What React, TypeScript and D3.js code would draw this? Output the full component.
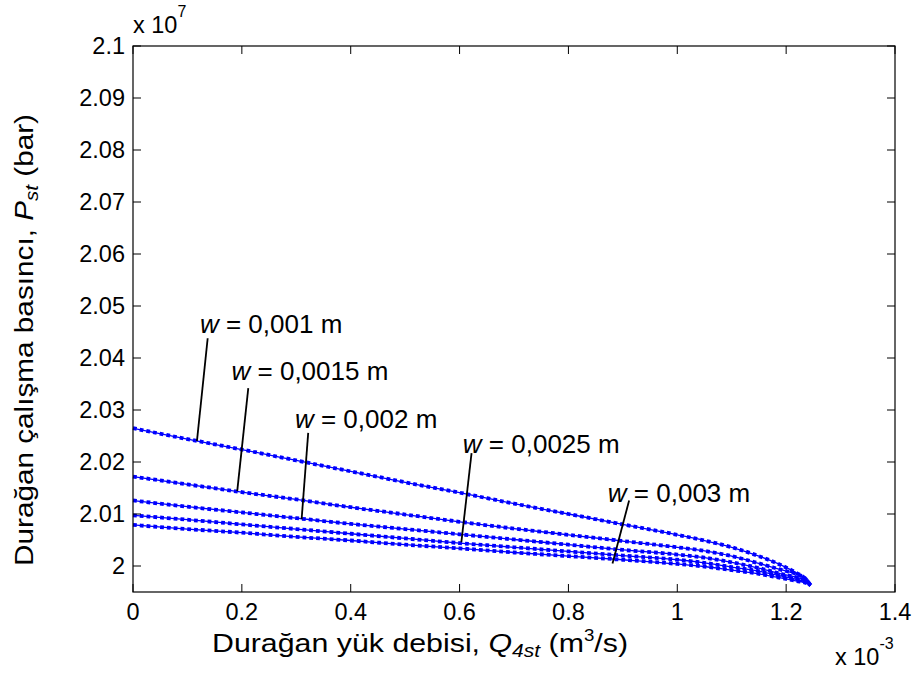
import React from 'react';
import * as d3 from 'd3';

const W = 915;
const H = 682;
const margin = { left: 133, top: 46, right: 20, bottom: 90 };

// Flow rate Q (x 1e-3 m^3/s)
const flowQ = [0, 0.1, 0.2, 0.3, 0.4, 0.5, 0.6, 0.7, 0.8, 0.9, 1.0, 1.05, 1.1, 1.15, 1.19, 1.22, 1.235, 1.245];
// Pressure P (x 1e7) for each clearance w
const pW0010 = [2.0265, 2.0244, 2.0224, 2.0203, 2.0182, 2.0161, 2.0141, 2.0120, 2.0100, 2.0080, 2.0060, 2.0049, 2.0036, 2.0019, 2.0002, 1.9986, 1.9976, 1.9963];
const pW0015 = [2.0172, 2.0157, 2.0142, 2.0128, 2.0113, 2.0099, 2.0085, 2.0072, 2.0060, 2.0048, 2.0036, 2.0029, 2.0019, 2.0005, 1.9993, 1.9984, 1.9976, 1.9963];
const pW0020 = [2.0126, 2.0114, 2.0103, 2.0092, 2.0081, 2.0071, 2.0061, 2.0051, 2.0041, 2.0031, 2.0022, 2.0016, 2.0007, 1.9996, 1.9985, 1.9978, 1.9973, 1.9963];
const pW0025 = [2.00975, 2.0089, 2.0080, 2.0071, 2.0062, 2.0053, 2.0044, 2.0036, 2.0028, 2.0020, 2.0012, 2.0006, 1.9998, 1.9990, 1.9981, 1.9974, 1.9970, 1.9963];
const pW0030 = [2.0079, 2.0071, 2.0064, 2.0056, 2.0049, 2.0041, 2.0034, 2.0026, 2.0019, 2.0012, 2.0004, 1.9999, 1.9992, 1.9985, 1.9977, 1.9971, 1.9968, 1.9963];
const seriesP = [pW0010, pW0015, pW0020, pW0025, pW0030];

const xTicks = [0, 0.2, 0.4, 0.6, 0.8, 1.0, 1.2, 1.4];
const xTickLabels = ['0', '0.2', '0.4', '0.6', '0.8', '1', '1.2', '1.4'];
const yTicks = [2.0, 2.01, 2.02, 2.03, 2.04, 2.05, 2.06, 2.07, 2.08, 2.09, 2.1];
const yTickLabels = ['2', '2.01', '2.02', '2.03', '2.04', '2.05', '2.06', '2.07', '2.08', '2.09', '2.1'];

// Annotations (data coordinates)
const widthLabels = ['0,001', '0,0015', '0,002', '0,0025', '0,003'];
const labelQ = [0.123, 0.181, 0.2975, 0.606, 0.8724];
const labelP = [2.0448, 2.0358, 2.0265, 2.0217, 2.0124];
const leaderStartQ = [0.1372, 0.2118, 0.3219, 0.622, 0.9115];
const leaderStartP = [2.0438, 2.0342, 2.0256, 2.0217, 2.0126];
const leaderEndQ = [0.1175, 0.1915, 0.3098, 0.6033, 0.881];
const leaderEndP = [2.0240, 2.0144, 2.0090, 2.0046, 2.0005];

const FONT = 'Liberation Sans, Arial, Helvetica, sans-serif';

export default function App() {
  const x = d3.scaleLinear().domain([0, 1.4]).range([margin.left, W - margin.right]);
  const y = d3.scaleLinear().domain([1.995, 2.1]).range([H - margin.bottom, margin.top]);
  const line = d3
    .line<number>()
    .x((_, i) => x(flowQ[i]))
    .y((d) => y(d))
    .curve(d3.curveMonotoneX);

  const x0 = margin.left;
  const x1 = W - margin.right;
  const y0 = H - margin.bottom;
  const y1 = margin.top;
  const tk = 8;

  return (
    <svg width={W} height={H} style={{ position: 'absolute', left: 0, top: 0, background: '#fff' }} fontFamily={FONT}>
      <rect x={0} y={0} width={W} height={H} fill="#fff" />
      {/* series */}
      {seriesP.map((s, k) => (
        <g key={k}>
          <path d={line(s) || ''} fill="none" stroke="#0000ff" strokeWidth={1.3} />
          <path d={line(s) || ''} fill="none" stroke="#0000ff" strokeWidth={3.8} strokeDasharray="3.8 3" />
        </g>
      ))}
      {/* frame */}
      <rect x={x0} y={y1} width={x1 - x0} height={y0 - y1} fill="none" stroke="#000" strokeWidth={1.2} />
      {/* ticks */}
      {xTicks.map((t, i) => (
        <g key={'xt' + i}>
          <line x1={x(t)} x2={x(t)} y1={y0} y2={y0 - tk} stroke="#000" strokeWidth={1} />
          <line x1={x(t)} x2={x(t)} y1={y1} y2={y1 + tk} stroke="#000" strokeWidth={1} />
          <text x={x(t)} y={620} textAnchor="middle" fontSize={23.5} fill="#000">
            {xTickLabels[i]}
          </text>
        </g>
      ))}
      {yTicks.map((t, i) => (
        <g key={'yt' + i}>
          <line x1={x0} x2={x0 + tk} y1={y(t)} y2={y(t)} stroke="#000" strokeWidth={1} />
          <line x1={x1} x2={x1 - tk} y1={y(t)} y2={y(t)} stroke="#000" strokeWidth={1} />
          <text x={125} y={y(t) + 8} textAnchor="end" fontSize={23.5} fill="#000">
            {yTickLabels[i]}
          </text>
        </g>
      ))}
      {/* exponents */}
      <text x={133} y={33} fontSize={23.5} fill="#000">
        x 10
        <tspan fontSize={16} dy={-16}>7</tspan>
      </text>
      <text x={835} y={665} fontSize={23.5} fill="#000">
        x 10
        <tspan fontSize={16} dy={-16}>-3</tspan>
      </text>
      {/* axis labels */}
      <text x={212} y={652} fontSize={26} fill="#000" textLength={416} lengthAdjust="spacingAndGlyphs">
        Durağan yük debisi,{' '}
        <tspan fontStyle="italic">Q</tspan>
        <tspan fontSize={18} dy={5} fontStyle="italic">4st</tspan>
        <tspan dy={-5}> (m</tspan>
        <tspan fontSize={16} dy={-11}>3</tspan>
        <tspan dy={11}>/s)</tspan>
      </text>
      <text transform="translate(33,566) rotate(-90)" fontSize={26} fill="#000" textLength={452} lengthAdjust="spacingAndGlyphs">
        Durağan çalışma basıncı,{' '}
        <tspan fontStyle="italic">P</tspan>
        <tspan fontSize={18} dy={5} fontStyle="italic">st</tspan>
        <tspan dy={-5}> (bar)</tspan>
      </text>
      {/* annotations */}
      {widthLabels.map((lab, i) => (
        <g key={'an' + i}>
          <line
            x1={x(leaderStartQ[i])}
            y1={y(leaderStartP[i])}
            x2={x(leaderEndQ[i])}
            y2={y(leaderEndP[i])}
            stroke="#000"
            strokeWidth={1.8}
          />
          <text x={x(labelQ[i])} y={y(labelP[i])} fontSize={26} fill="#000">
            <tspan fontStyle="italic">w</tspan>
            <tspan> = {lab} m</tspan>
          </text>
        </g>
      ))}
    </svg>
  );
}
